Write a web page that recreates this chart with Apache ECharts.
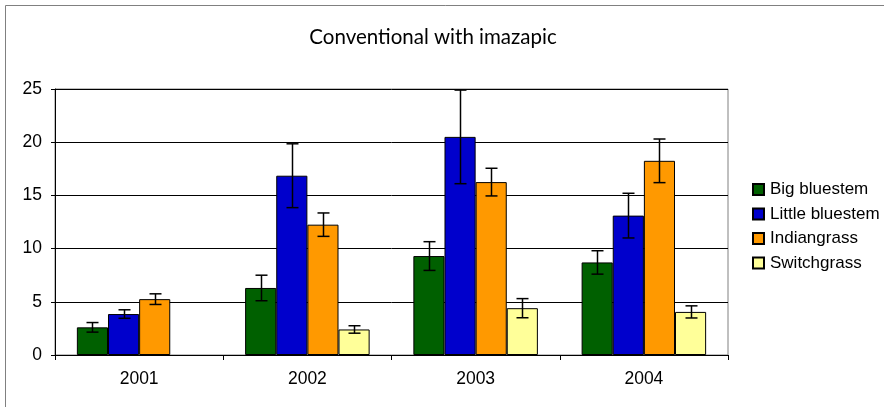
<!DOCTYPE html>
<html>
<head>
    <meta charset="utf-8">
    <script src="https://cdn.jsdelivr.net/npm/echarts@6/dist/echarts.min.js"></script>
</head>
<body style="margin: 0; background: #fff">
<div id="container" style="height: 407px; width: 884px;"></div>
<script>

// chart data
var years = ['2001', '2002', '2003', '2004'];
var seriesNames = ['Big bluestem', 'Little bluestem', 'Indiangrass', 'Switchgrass'];
var bigBluestem = [2.6, 6.3, 9.3, 8.7];
var littleBluestem = [3.85, 16.85, 20.5, 13.1];
var indiangrass = [5.25, 12.25, 16.25, 18.25];
var switchgrass = ['-', 2.4, 4.4, 4.05];
// +/- error for each bar
var bigBluestemErr = [0.45, 1.2, 1.35, 1.1];
var littleBluestemErr = [0.4, 3.0, 4.4, 2.1];
var indiangrassErr = [0.5, 1.1, 1.3, 2.05];
var switchgrassErr = [null, 0.35, 0.9, 0.57];
var yTicks = [0, 5, 10, 15, 20, 25];

var colors = ['#006000', '#0000CC', '#FF9900', '#FFFF99'];
var values = [bigBluestem, littleBluestem, indiangrass, switchgrass];
var errs = [bigBluestemErr, littleBluestemErr, indiangrassErr, switchgrassErr];

var GAP = 0.26;   // barCategoryGap as fraction

// flatten error bars: [category, seriesIndex, low, high]
var errData = [];
for (var s = 0; s < values.length; s++) {
    for (var c = 0; c < years.length; c++) {
        var v = values[s][c];
        if (v === '-' || errs[s][c] == null) continue;
        errData.push([c, s, v - errs[s][c], v + errs[s][c]]);
    }
}

var dom = document.getElementById('container');
var myChart = echarts.init(dom);

var font = 'Liberation Sans, Arial, sans-serif';

var series = seriesNames.map(function (name, i) {
    return {
        name: name,
        type: 'bar',
        data: values[i],
        barGap: '0%',
        barCategoryGap: (GAP * 100) + '%',
        itemStyle: { color: colors[i], borderColor: '#000', borderWidth: 1 },
        emphasis: { disabled: true }
    };
});

series.push({
    type: 'custom',
    name: 'err',
    data: errData,
    z: 5,
    silent: true,
    renderItem: function (params, api) {
        var cat = api.value(0);
        var si = api.value(1);
        var band = api.size([1, 0])[0];
        var barW = band * (1 - GAP) / 4;
        var off = (si - 1.5) * barW;
        var lo = api.coord([cat, api.value(2)]);
        var hi = api.coord([cat, api.value(3)]);
        var x = Math.round(lo[0] + off) + 0.5;
        var cap = 6;
        var st = { stroke: '#000', lineWidth: 1.5 };
        return {
            type: 'group',
            children: [
                { type: 'line', shape: { x1: x, y1: hi[1], x2: x, y2: lo[1] }, style: st },
                { type: 'line', shape: { x1: x - cap, y1: hi[1], x2: x + cap, y2: hi[1] }, style: st },
                { type: 'line', shape: { x1: x - cap, y1: lo[1], x2: x + cap, y2: lo[1] }, style: st }
            ]
        };
    }
});

var option = {
    animation: false,
    backgroundColor: '#fff',
    title: {
        text: 'Conventional with imazapic',
        left: 433,
        textAlign: 'center',
        top: 22,
        textStyle: { fontFamily: 'Lato, Liberation Sans, sans-serif', fontSize: 20.5, fontWeight: 'normal', color: '#000' }
    },
    legend: {
        data: seriesNames,
        orient: 'vertical',
        left: 747,
        top: 176,
        itemWidth: 11,
        itemHeight: 11,
        itemGap: 7.5,
        icon: 'rect',
        selectedMode: false,
        textStyle: { fontFamily: font, fontSize: 17, color: '#000', padding: [0, 0, 0, 1] }
    },
    grid: {
        left: 55, right: 156, top: 89, bottom: 52,
        show: true,
        borderColor: '#808080',
        borderWidth: 1,
        backgroundColor: '#fff'
    },
    xAxis: {
        type: 'category',
        data: years,
        axisLine: { lineStyle: { color: '#000', width: 1 } },
        axisTick: { show: true, length: 5, lineStyle: { color: '#000' } },
        axisLabel: { fontFamily: font, fontSize: 17.5, color: '#000', margin: 15 }
    },
    yAxis: {
        type: 'value',
        min: yTicks[0],
        max: yTicks[yTicks.length - 1],
        interval: 5,
        axisLine: { show: true, lineStyle: { color: '#000', width: 1 } },
        axisTick: { show: true, length: 4, lineStyle: { color: '#000' } },
        splitLine: { lineStyle: { color: '#000', width: 1 } },
        axisLabel: { fontFamily: font, fontSize: 17.5, color: '#000', margin: 13 }
    },
    graphic: [{
        type: 'rect',
        shape: { x: 5.5, y: 5.5, width: 900, height: 420 },
        style: { fill: null, stroke: '#808080', lineWidth: 1 },
        silent: true,
        z: 100
    }],
    series: series
};

// title sits a little left of centre in the original
option.title.left = 428;

myChart.setOption(option);

</script>
</body>
</html>
